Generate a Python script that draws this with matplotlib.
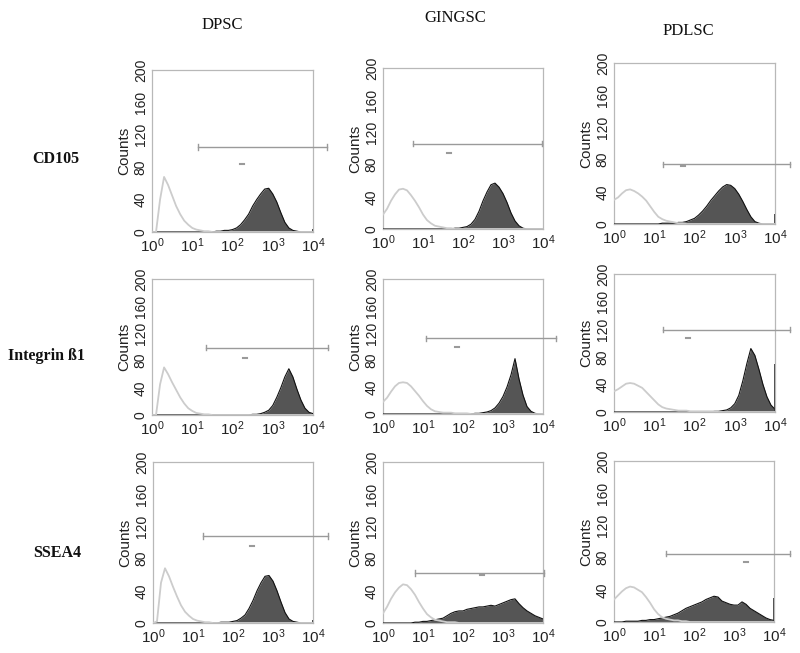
import matplotlib
matplotlib.use("Agg")
import matplotlib.pyplot as plt

# flow cytometry histograms: isotype control (light outline) vs marker (dark fill)
# x positions in decades (log10 of fluorescence), counts
decades = [0.0, 0.1, 0.2, 0.3, 0.4, 0.5, 0.6, 0.7, 0.8, 0.9,
           1.0, 1.1, 1.2, 1.3, 1.4, 1.5, 1.6, 1.7, 1.8, 1.9,
           2.0, 2.1, 2.2, 2.3, 2.4, 2.5, 2.6, 2.7, 2.8, 2.9,
           3.0, 3.1, 3.2, 3.3, 3.4, 3.5, 3.6, 3.7, 3.8, 3.9, 4.0]

cell_types = ["DPSC", "GINGSC", "PDLSC"]
markers = ["CD105", "Integrin ß1", "SSEA4"]

# CD105
dpsc_cd105_iso = [0, 0, 40, 68, 58, 45, 32, 22, 14, 9, 5, 3, 2, 1, 1] + [0] * 26
dpsc_cd105 = [0] * 16 + [1, 1, 2, 2, 3, 5, 9, 15, 22, 32, 40, 47, 53, 54, 47, 37, 24, 12, 5, 2, 1] + [0] * 4
gingsc_cd105_iso = [18, 25, 35, 43, 49, 50, 48, 42, 35, 27, 18, 11, 7, 4, 3, 2, 1, 1] + [0] * 23
gingsc_cd105 = [0] * 18 + [1, 1, 2, 3, 6, 12, 22, 35, 46, 55, 57, 52, 44, 33, 20, 10, 4, 1] + [0] * 5
pdlsc_cd105_iso = [30, 33, 38, 42, 43, 41, 38, 34, 29, 22, 15, 9, 6, 4, 3, 2, 1, 1] + [0] * 23
pdlsc_cd105 = [0] * 12 + [1, 1, 1, 1, 2, 2, 3, 5, 7, 11, 16, 22, 29, 35, 41, 46, 49, 48, 44, 37,
                          28, 18, 9, 3, 1] + [0] * 4

# Integrin beta1
dpsc_itgb1_iso = [0, 0, 45, 70, 60, 48, 37, 26, 17, 10, 6, 3, 2, 1, 1] + [0] * 26
dpsc_itgb1 = [0] * 25 + [1, 1, 2, 4, 7, 14, 26, 40, 56, 68, 56, 38, 22, 10, 4, 2]
gingsc_itgb1_iso = [18, 24, 33, 41, 46, 47, 46, 41, 34, 27, 19, 12, 7, 4, 3, 2, 2, 2, 1, 1, 1, 1] + [0] * 19
gingsc_itgb1 = [0] * 23 + [1, 1, 2, 3, 5, 9, 16, 26, 40, 58, 82, 52, 28, 11, 4, 1, 0, 0]
pdlsc_itgb1_iso = [30, 33, 37, 41, 42, 41, 38, 35, 29, 23, 17, 11, 7, 5, 4, 3, 2, 2, 2, 1,
                   1, 1, 1, 1, 1, 1] + [0] * 15
pdlsc_itgb1 = [0] * 25 + [1, 1, 2, 3, 6, 12, 24, 45, 70, 92, 82, 62, 40, 22, 10, 4]

# SSEA4
dpsc_ssea4_iso = [0, 2, 50, 68, 58, 45, 33, 22, 14, 9, 5, 3, 2, 1, 1] + [0] * 26
dpsc_ssea4 = [0] * 17 + [1, 1, 1, 2, 3, 6, 10, 18, 28, 40, 50, 58, 59, 52, 40, 26, 13, 5, 2, 1] + [0] * 4
gingsc_ssea4_iso = [12, 20, 30, 38, 44, 48, 47, 42, 35, 26, 18, 11, 7, 4, 3, 2, 1, 1, 1] + [0] * 22
gingsc_ssea4 = [0] * 8 + [1, 1, 2, 2, 3, 4, 5, 6, 9, 12, 14, 15, 15, 17, 18, 19, 20, 20, 21, 22,
                          21, 23, 25, 27, 29, 30, 24, 19, 15, 12, 9, 7, 5]
pdlsc_ssea4_iso = [28, 33, 38, 42, 44, 43, 40, 37, 31, 24, 16, 10, 6, 4, 3, 2, 2, 1, 1] + [0] * 22
pdlsc_ssea4 = [0] * 3 + [1, 1, 1, 1, 2, 2, 3, 3, 4, 5, 6, 7, 9, 11, 14, 17, 19, 21, 23, 25,
                         28, 30, 32, 31, 26, 24, 22, 21, 21, 25, 22, 17, 14, 11, 8, 5, 3, 2]

iso_rows = [[dpsc_cd105_iso, gingsc_cd105_iso, pdlsc_cd105_iso],
            [dpsc_itgb1_iso, gingsc_itgb1_iso, pdlsc_itgb1_iso],
            [dpsc_ssea4_iso, gingsc_ssea4_iso, pdlsc_ssea4_iso]]
stain_rows = [[dpsc_cd105, gingsc_cd105, pdlsc_cd105],
              [dpsc_itgb1, gingsc_itgb1, pdlsc_itgb1],
              [dpsc_ssea4, gingsc_ssea4, pdlsc_ssea4]]

# events piled up in the last channel
pileup = [[4, 0, 12], [0, 0, 70], [4, 0, 30]]

# gate marker: start, end, height, label-dash x, label-dash y
gates = [[(1.14, 4.35, 105, 2.24, 84), (0.74, 3.98, 106, 1.65, 94), (1.21, 4.37, 74, 1.71, 72)],
         [(1.34, 4.37, 99, 2.31, 84), (1.07, 4.33, 112, 1.84, 99), (1.21, 4.37, 119, 1.84, 107)],
         [(1.24, 4.38, 108, 2.47, 96), (0.80, 4.02, 62, 2.47, 60), (1.29, 4.40, 85, 3.29, 75)]]

y_ticks = [0, 40, 80, 120, 160, 200]
x_ticks = [0, 1, 2, 3, 4]

# axes boxes in pixels (left, top, right, bottom) of the 800x653 figure
boxes = [[(152, 70, 313, 232), (383, 68, 543, 229), (614, 63, 775, 224)],
         [(152, 279, 313, 415), (383, 279, 543, 414), (614, 274, 775, 412)],
         [(153, 462, 313, 623), (383, 462, 543, 623), (614, 461, 774, 622)]]

W, H = 800, 653
fig = plt.figure(figsize=(W / 100, H / 100), dpi=100)
sans = ["Liberation Sans", "DejaVu Sans"]
serif = ["Liberation Serif", "DejaVu Serif"]

for r in range(3):
    for c in range(3):
        l, t, rr, b = boxes[r][c]
        ax = fig.add_axes([l / W, 1 - b / H, (rr - l) / W, (b - t) / H])
        iso = iso_rows[r][c]
        stain = stain_rows[r][c]
        ax.fill_between(decades, stain, 0, color="#555555", lw=0, zorder=2)
        ax.plot(decades, stain, color="#111111", lw=0.8, zorder=3)
        ax.plot(decades, iso, color="#cccccc", lw=1.3, zorder=4)
        if pileup[r][c]:
            ax.vlines(4.0, 0, pileup[r][c], color="#333333", lw=1.2, zorder=3)

        g0, g1, gy, mx, my = gates[r][c]
        ax.plot([g0, g1], [gy, gy], color="#9a9a9a", lw=1.0, clip_on=False, zorder=5)
        for gx in (g0, g1):
            ax.plot([gx, gx], [gy - 3.5, gy + 3.5], color="#9a9a9a", lw=1.0,
                    clip_on=False, zorder=5)
        ax.plot([mx - 0.05, mx + 0.05], [my, my], color="#9a9a9a", lw=1.5, zorder=5)

        ax.set_xlim(0, 4)
        ax.set_ylim(0, 200)
        ax.set_xticks(x_ticks)
        ax.set_xticklabels([r"$\mathregular{10^{%d}}$" % k for k in x_ticks],
                           fontsize=11, family=sans, color="#222222")
        ax.set_yticks(y_ticks)
        ax.set_yticklabels([str(v) for v in y_ticks], fontsize=10, family=sans,
                           color="#222222", rotation=90, va="center")
        ax.tick_params(length=0, pad=3)
        ax.set_ylabel("Counts", fontsize=11, family=sans, color="#222222", labelpad=2)
        for s in ax.spines.values():
            s.set_color("#b8b8b8")
            s.set_linewidth(0.9)

# column titles
title_pos = [(222, 25), (455, 18), (688, 31)]
for name, (x, y) in zip(cell_types, title_pos):
    fig.text(x / W, 1 - y / H, name, ha="center", va="center",
             fontsize=12, family=serif, color="#111111")

# row labels
label_pos = [(56, 159), (47, 356), (57, 553)]
for name, (x, y) in zip(markers, label_pos):
    fig.text(x / W, 1 - y / H, name, ha="center", va="center",
             fontsize=11.5, family=serif, weight="bold", color="#111111")

fig.savefig("out.png", dpi=100)
